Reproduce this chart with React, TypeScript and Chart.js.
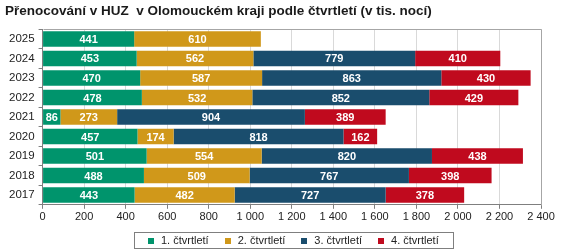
import React, { useEffect, useRef } from "react";
import { Chart, registerables } from "chart.js";

Chart.register(...registerables);

const years = ["2025", "2024", "2023", "2022", "2021", "2020", "2019", "2018", "2017"];
const q1 = [441, 453, 470, 478, 86, 457, 501, 488, 443];
const q2 = [610, 562, 587, 532, 273, 174, 554, 509, 482];
const q3 = [null, 779, 863, 852, 904, 818, 820, 767, 727];
const q4 = [null, 410, 430, 429, 389, 162, 438, 398, 378];
const seriesNames = ["1. čtvrtletí", "2. čtvrtletí", "3. čtvrtletí", "4. čtvrtletí"];
const colors = ["#00946C", "#D0981A", "#1A4D6D", "#C00A1E"];
const xTicks = { min: 0, max: 2400, step: 200 };
const title = "Přenocování v HUZ  v Olomouckém kraji podle čtvrtletí (v tis. nocí)";

const FONT = "Arial, 'Liberation Sans', sans-serif";

const fmt = (v: number) => String(v).replace(/\B(?=(\d{3})+(?!\d))/g, "\u00a0");

const labelsPlugin = {
  id: "barLabels",
  afterDatasetsDraw(chart: any) {
    const ctx = chart.ctx;
    ctx.save();
    ctx.font = `bold 11px ${FONT}`;
    ctx.fillStyle = "#ffffff";
    ctx.textAlign = "center";
    ctx.textBaseline = "middle";
    chart.data.datasets.forEach((ds: any, di: number) => {
      const meta = chart.getDatasetMeta(di);
      meta.data.forEach((el: any, i: number) => {
        const v = ds.data[i];
        if (v == null) return;
        const cx = (el.x + el.base) / 2;
        ctx.fillText(String(v), cx, el.y + 1);
      });
    });
    ctx.restore();
  },
};

const framePlugin = {
  id: "frame",
  afterDraw(chart: any) {
    const ctx = chart.ctx;
    const a = chart.chartArea;
    ctx.save();
    ctx.strokeStyle = "#a6a6a6";
    ctx.lineWidth = 1;
    ctx.beginPath();
    ctx.moveTo(Math.round(a.left) + 0.5, Math.round(a.top) + 0.5);
    ctx.lineTo(Math.round(a.right) + 0.5, Math.round(a.top) + 0.5);
    ctx.lineTo(Math.round(a.right) + 0.5, Math.round(a.bottom) + 0.5);
    ctx.stroke();

    // custom legend
    ctx.font = `11px ${FONT}`;
    const marker = 6;
    const gapMarkerText = 7;
    const itemGap = 16;
    const widths = chart.data.datasets.map((d: any) => marker + gapMarkerText + ctx.measureText(d.label).width);
    const total = widths.reduce((s: number, w: number) => s + w, 0) + itemGap * (widths.length - 1);
    const padX = 14;
    const boxW = total + padX * 2;
    const boxH = 16;
    const boxTop = chart.height - boxH - 1;
    const boxLeft = Math.round((a.left + a.right) / 2 - boxW / 2 + 2);
    ctx.strokeStyle = "#7f7f7f";
    ctx.strokeRect(boxLeft + 0.5, boxTop + 0.5, Math.round(boxW), boxH);
    let x = boxLeft + padX;
    const cy = boxTop + boxH / 2 + 0.5;
    chart.data.datasets.forEach((d: any, i: number) => {
      ctx.fillStyle = d.backgroundColor;
      ctx.fillRect(Math.round(x), Math.round(cy - marker / 2), marker, marker);
      ctx.fillStyle = "#222";
      ctx.textAlign = "left";
      ctx.textBaseline = "middle";
      ctx.fillText(d.label, x + marker + gapMarkerText, cy + 0.5);
      x += widths[i] + itemGap;
    });
    ctx.restore();
  },
};

export default function App() {
  const ref = useRef<HTMLCanvasElement>(null);
  useEffect(() => {
    document.body.style.margin = "0";
    const data = [q1, q2, q3, q4];
    const chart = new Chart(ref.current!, {
      type: "bar",
      data: {
        labels: years,
        datasets: seriesNames.map((n, i) => ({
          label: n,
          data: data[i] as any,
          backgroundColor: colors[i],
          borderWidth: 0,
          barPercentage: 0.8,
          categoryPercentage: 1,
        })),
      },
      options: {
        indexAxis: "y",
        animation: false,
        responsive: false,
        maintainAspectRatio: false,
        layout: { padding: { left: 5, right: 26, top: 0, bottom: 23 } },
        plugins: {
          title: {
            display: true,
            text: title,
            align: "start",
            color: "#1a1a1a",
            font: { family: FONT, size: 13.5, weight: "bold" },
            padding: { top: 3, bottom: 10 },
          },
          legend: { display: false },
          tooltip: { enabled: false },
        },
        scales: {
          x: {
            stacked: true,
            min: xTicks.min,
            max: xTicks.max,
            ticks: {
              stepSize: xTicks.step,
              color: "#222",
              font: { family: FONT, size: 11 },
              callback: (v: any) => fmt(Number(v)),
              padding: 2,
              maxRotation: 0,
            },
            grid: { color: "#d9d9d9", tickColor: "#7f7f7f", tickLength: 4 },
            border: { color: "#7f7f7f" },
          },
          y: {
            stacked: true,
            ticks: { color: "#222", font: { family: FONT, size: 11.5 }, padding: 4 },
            grid: { drawOnChartArea: false, offset: true, tickColor: "#7f7f7f", tickLength: 4 },
            border: { color: "#7f7f7f" },
          },
        },
      },
      plugins: [labelsPlugin, framePlugin],
    } as any);
    return () => chart.destroy();
  }, []);
  return (
    <div style={{ position: "absolute", left: 0, top: 0, width: 567, height: 249 }}>
      <canvas ref={ref} width={567} height={249} style={{ width: 567, height: 249, display: "block" }} />
    </div>
  );
}
